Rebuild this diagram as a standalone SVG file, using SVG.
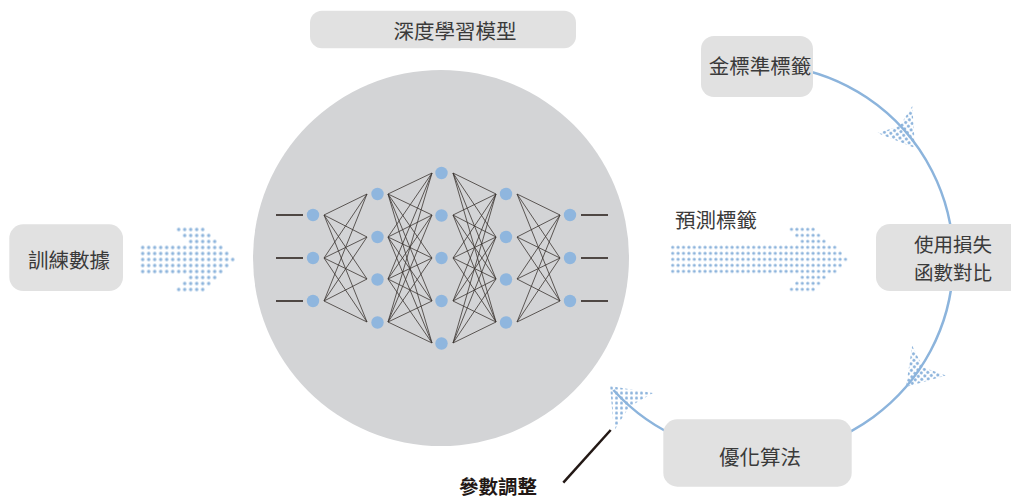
<svg xmlns="http://www.w3.org/2000/svg" width="1011" height="499" viewBox="0 0 1011 499">
<style>
.box{fill:#e1e1e1}
.lbl{font-family:"Noto Sans CJK TC","Noto Sans CJK SC",sans-serif;font-size:20.5px;fill:#3a3a3a;text-anchor:middle;dominant-baseline:central}
.bold{font-weight:bold;fill:#231815;font-size:19.5px}
.edge{stroke:#3b3531;stroke-width:0.8;fill:none}
.io{stroke:#231815;stroke-width:1.3}
.node{fill:#8fb6de}
.arc{fill:none;stroke:#8cb4dc;stroke-width:2.5}
</style>
<defs>
<pattern id="pl" patternUnits="userSpaceOnUse" x="139.7" y="226.5" width="6" height="6"><circle cx="3" cy="3" r="1.7" fill="#8db4dc"/></pattern>
<pattern id="pr" patternUnits="userSpaceOnUse" x="670" y="226.3" width="5.4" height="6"><circle cx="2.7" cy="3" r="1.6" fill="#8db4dc"/></pattern>
<pattern id="pa" patternUnits="userSpaceOnUse" x="915" y="147" width="4.6" height="4.6" patternTransform="rotate(54 915 147)"><circle cx="2.3" cy="2.3" r="1.5" fill="#8db4dc"/></pattern>
<pattern id="pb" patternUnits="userSpaceOnUse" x="906" y="387" width="4.6" height="4.6" patternTransform="rotate(131 906 387)"><circle cx="2.3" cy="2.3" r="1.5" fill="#8db4dc"/></pattern>
<pattern id="pc" patternUnits="userSpaceOnUse" x="609" y="385.5" width="5" height="5"><circle cx="2.5" cy="2.5" r="1.5" fill="#8db4dc"/></pattern>
</defs>

<circle id="bigcircle" cx="441" cy="258" r="188" fill="#d3d4d6"/>

<g id="connectors">
<polygon points="915,148 912.3,106 899.7,126 877.5,133" fill="url(#pa)"/>
<polygon points="906,387 912.1,345.5 923,367.3 946,375.5" fill="url(#pb)"/>
<polygon points="610,386 653,393 629,407 614,431" fill="url(#pc)"/>
<path class="arc" d="M785.4 66.4A195 195 0 1 1 613.4 390"/>
<g fill="url(#pl)">
<rect x="175.7" y="226.5" width="30" height="6"/>
<rect x="181.7" y="232.5" width="30" height="6"/>
<rect x="187.7" y="238.5" width="30" height="6"/>
<rect x="139.7" y="244.5" width="84" height="6"/>
<rect x="139.7" y="250.5" width="90" height="6"/>
<rect x="139.7" y="256.5" width="96" height="6"/>
<rect x="139.7" y="262.5" width="90" height="6"/>
<rect x="139.7" y="268.5" width="84" height="6"/>
<rect x="187.7" y="274.5" width="30" height="6"/>
<rect x="181.7" y="280.5" width="30" height="6"/>
<rect x="175.7" y="286.5" width="30" height="6"/>
</g>
<g fill="url(#pr)">
<rect x="788.8" y="226.3" width="27" height="6"/>
<rect x="794.2" y="232.3" width="27" height="6"/>
<rect x="799.6" y="238.3" width="27" height="6"/>
<rect x="670" y="244.3" width="167.4" height="6"/>
<rect x="670" y="250.3" width="172.8" height="6"/>
<rect x="670" y="256.3" width="178.2" height="6"/>
<rect x="670" y="262.3" width="172.8" height="6"/>
<rect x="670" y="268.3" width="167.4" height="6"/>
<rect x="799.6" y="274.3" width="27" height="6"/>
<rect x="794.2" y="280.3" width="27" height="6"/>
<rect x="788.8" y="286.3" width="27" height="6"/>
</g>
<line x1="563.3" y1="482.7" x2="610.7" y2="430" stroke="#231815" stroke-width="2.5"/>
</g>

<g id="network">
<path class="edge" d="M324 215L367 194M324 215L367 237M324 215L367 279M324 215L367 322M324 258L367 194M324 258L367 237M324 258L367 279M324 258L367 322M324 301L367 194M324 301L367 237M324 301L367 279M324 301L367 322
M388 194L432 173M388 194L432 215M388 194L432 258M388 194L432 301M388 194L432 343M388 237L432 173M388 237L432 215M388 237L432 258M388 237L432 301M388 237L432 343M388 279L432 173M388 279L432 215M388 279L432 258M388 279L432 301M388 279L432 343M388 322L432 173M388 322L432 215M388 322L432 258M388 322L432 301M388 322L432 343
M453 173L496 194M453 173L496 237M453 173L496 279M453 173L496 322M453 215L496 194M453 215L496 237M453 215L496 279M453 215L496 322M453 258L496 194M453 258L496 237M453 258L496 279M453 258L496 322M453 301L496 194M453 301L496 237M453 301L496 279M453 301L496 322M453 343L496 194M453 343L496 237M453 343L496 279M453 343L496 322
M517 194L560 215M517 194L560 258M517 194L560 301M517 237L560 215M517 237L560 258M517 237L560 301M517 279L560 215M517 279L560 258M517 279L560 301M517 322L560 215M517 322L560 258M517 322L560 301"/>
<path class="io" d="M276 215H303M276 258H303M276 301H303M581 215H608M581 258H608M581 301H608"/>
<g class="node">
<circle cx="313" cy="215" r="6.2"/><circle cx="313" cy="258" r="6.2"/><circle cx="313" cy="301" r="6.2"/>
<circle cx="377.5" cy="194" r="6.2"/><circle cx="377.5" cy="237" r="6.2"/><circle cx="377.5" cy="279.5" r="6.2"/><circle cx="377.5" cy="322.5" r="6.2"/>
<circle cx="441.5" cy="173" r="6.2"/><circle cx="441.5" cy="215.5" r="6.2"/><circle cx="441.5" cy="258" r="6.2"/><circle cx="441.5" cy="301" r="6.2"/><circle cx="441.5" cy="343.5" r="6.2"/>
<circle cx="506" cy="194" r="6.2"/><circle cx="506" cy="237" r="6.2"/><circle cx="506" cy="279.5" r="6.2"/><circle cx="506" cy="322.5" r="6.2"/>
<circle cx="570" cy="215" r="6.2"/><circle cx="570" cy="258" r="6.2"/><circle cx="570" cy="301" r="6.2"/>
</g>
</g>

<g id="model-title">
<rect class="box" x="310" y="10.7" width="266" height="37.6" rx="12"/>
<text class="lbl" x="455" y="30">深度學習模型</text>
</g>
<g id="training-data">
<rect class="box" x="9.3" y="224.3" width="113.7" height="66.7" rx="14"/>
<text class="lbl" x="69" y="259">訓練數據</text>
</g>
<g id="gold-labels">
<rect class="box" x="701" y="36" width="112" height="61" rx="13"/>
<text class="lbl" x="760" y="65">金標準標籤</text>
</g>
<g id="loss">
<rect class="box" x="876" y="224" width="160" height="67" rx="14"/>
<text class="lbl" x="953" y="243" style="font-size:19.5px">使用損失</text>
<text class="lbl" x="953" y="271" style="font-size:19.5px">函數對比</text>
</g>
<g id="optimizer">
<rect class="box" x="663.3" y="419.3" width="188.4" height="67.4" rx="14"/>
<text class="lbl" x="760" y="456">優化算法</text>
</g>
<g id="predicted-label">
<text class="lbl" x="716" y="219">預測標籤</text>
</g>
<g id="param-tuning">
<text class="lbl bold" x="498" y="485">參數調整</text>
</g>
</svg>
